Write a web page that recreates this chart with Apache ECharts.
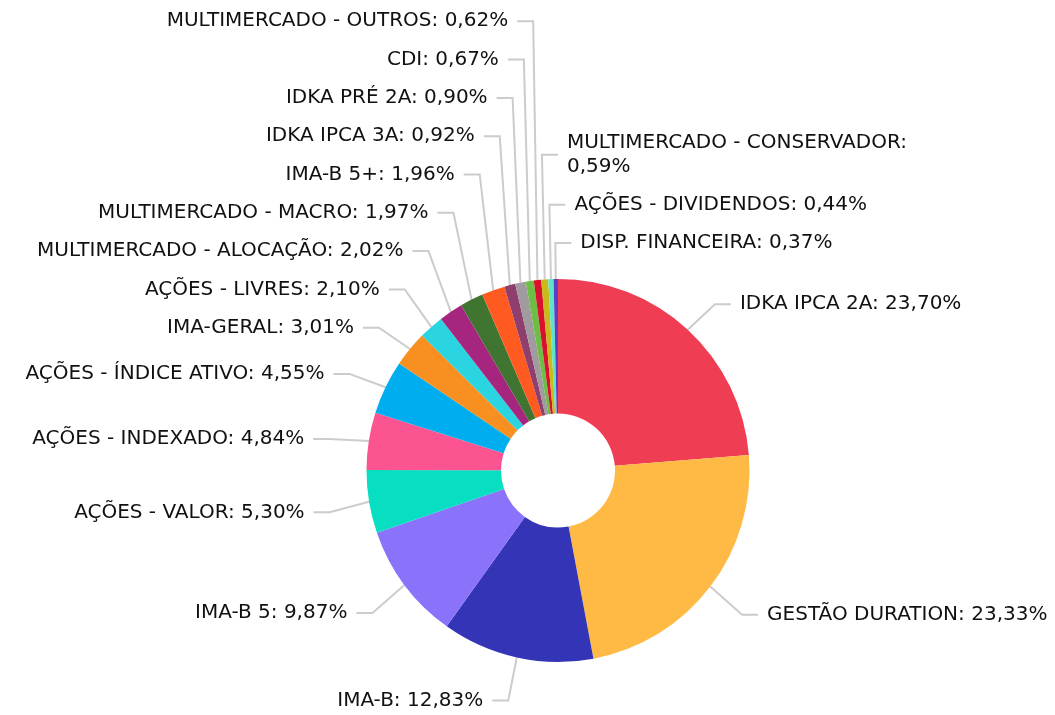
<!DOCTYPE html>
<html>
<head>
<meta charset="utf-8">
<script src="https://cdn.jsdelivr.net/npm/echarts@6/dist/echarts.min.js"></script>
<style>
  html, body { margin: 0; padding: 0; background: #fff; }
  #chart { width: 1055px; height: 715px; }
</style>
</head>
<body>
<div id="chart"></div>
<script>
var names = [
  'IDKA IPCA 2A', 'GESTÃO DURATION', 'IMA-B', 'IMA-B 5', 'AÇÕES - VALOR',
  'AÇÕES - INDEXADO', 'AÇÕES - ÍNDICE ATIVO', 'IMA-GERAL', 'AÇÕES - LIVRES',
  'MULTIMERCADO - ALOCAÇÃO', 'MULTIMERCADO - MACRO', 'IMA-B 5+', 'IDKA IPCA 3A',
  'IDKA PRÉ 2A', 'CDI', 'MULTIMERCADO - OUTROS', 'MULTIMERCADO - CONSERVADOR',
  'AÇÕES - DIVIDENDOS', 'DISP. FINANCEIRA'
];
var values = [
  23.70, 23.33, 12.83, 9.87, 5.30,
  4.84, 4.55, 3.01, 2.10,
  2.02, 1.97, 1.96, 0.92,
  0.90, 0.67, 0.62, 0.59,
  0.44, 0.37
];
var colors = [
  '#ef3d53', '#ffba45', '#3434b6', '#8a72fb', '#08dfc2',
  '#fb5490', '#00aeef', '#f79021', '#2ad4e0',
  '#a5257f', '#3f7530', '#ff5a1f', '#8f3f6e',
  '#a19a9e', '#6dbe45', '#d9112e', '#c9b91b',
  '#5be6cc', '#5e3fc4'
];

// geometry / label layout settings
var cx = 558, cy = 470.5, rIn = 57, rOut = 191.5;
var len1 = 40, len2 = 16, gap = 9, yShift = 4;
var rowH = 38.3, lineH = 23.5, maxW = 390;
var rightFrom = 355; // slices past this angle (deg from top) label on the right
var font = '20px "DejaVu Sans"';

var ctx = document.createElement('canvas').getContext('2d');
ctx.font = font;

function labelText(i) {
  var v = values[i].toFixed(2).replace('.', ',') + '%';
  var one = names[i] + ': ' + v;
  return ctx.measureText(one).width > maxW ? names[i] + ':\n' + v : one;
}

// own label placement: keep x at the label line end, stack on y
var total = values.reduce(function (a, b) { return a + b; }, 0);
var lay = [];
var acc = 0;
values.forEach(function (v, i) {
  var mid = (acc + v / 2) / total * 360;
  acc += v;
  var a = mid * Math.PI / 180;
  var side = (mid < 180 || mid >= rightFrom) ? 1 : -1;
  var x1 = cx + rOut * Math.sin(a), y1 = cy - rOut * Math.cos(a);
  var x2 = cx + (rOut + len1) * Math.sin(a);
  var ny = cy - (rOut + len1) * Math.cos(a) + yShift;
  var lines = labelText(i).split('\n').length;
  lay.push({
    i: i, mid: mid, side: side, x1: x1, y1: y1, x2: x2, ny: ny, y: ny,
    h: rowH + (lines - 1) * lineH,
    key: side > 0 ? (mid >= 180 ? mid - 360 : mid) : mid
  });
});

function stack(list, up) {
  var prev = null;
  list.forEach(function (o) {
    if (prev) {
      var d = (prev.h + o.h) / 2;
      o.y = up ? Math.min(o.ny, prev.y - d) : Math.max(o.ny, prev.y + d);
    }
    prev = o;
  });
}
[1, -1].forEach(function (side) {
  var s = lay.filter(function (o) { return o.side === side; });
  var upper = s.filter(function (o) { return o.ny < cy; });
  var lower = s.filter(function (o) { return o.ny >= cy; });
  upper.sort(function (a, b) { return side > 0 ? b.key - a.key : a.key - b.key; });
  lower.sort(function (a, b) { return side > 0 ? a.key - b.key : b.key - a.key; });
  stack(upper, true);
  stack(lower, false);
});

var chartDom = document.getElementById('chart');
var myChart = echarts.init(chartDom);
var option;

var pieData = names.map(function (n, i) {
  return { name: n, value: values[i], itemStyle: { color: colors[i] } };
});

option = {
  animation: false,
  series: [
    {
      type: 'pie',
      center: [cx, cy],
      radius: [rIn, rOut],
      startAngle: 90,
      clockwise: true,
      avoidLabelOverlap: false,
      data: pieData,
      label: {
        show: true,
        fontFamily: 'DejaVu Sans',
        fontSize: 20,
        color: '#111',
        lineHeight: lineH,
        padding: [3, 0, 0, 0],
        formatter: function (p) { return labelText(p.dataIndex); }
      },
      labelLine: {
        show: true,
        length: len1,
        length2: len2,
        lineStyle: { color: '#cccccc', width: 2 }
      },
      labelLayout: function (p) {
        var o = lay[p.dataIndex];
        var x3 = o.x2 + o.side * len2;
        return {
          x: x3 + o.side * gap,
          y: o.y,
          align: o.side > 0 ? 'left' : 'right',
          verticalAlign: 'middle',
          labelLinePoints: [[o.x1, o.y1], [o.x2, o.y], [x3, o.y]]
        };
      }
    }
  ]
};
option && myChart.setOption(option);
</script>
</body>
</html>
